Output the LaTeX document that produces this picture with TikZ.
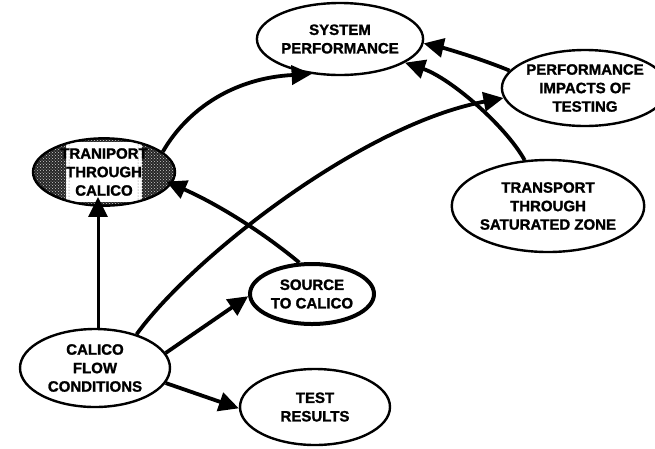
\documentclass[tikz,border=0pt]{standalone}
\usepackage{fontspec}
\setmainfont{Liberation Sans}
\newfontfamily\heavyfont[FakeBold=1.4]{Liberation Sans}
\usetikzlibrary{shapes.geometric,arrows.meta,patterns}
\tikzset{
  bubble/.style={ellipse, draw, line width=2.4pt, inner sep=0pt, align=center,
    font=\heavyfont\bfseries\fontsize{15}{18.5}\selectfont},
  link/.style={line width=3.8pt, -{Triangle[length=20pt,width=19pt]}},
}
\begin{document}
\begin{tikzpicture}[x=1pt,y=-1pt]
\useasboundingbox (0,0) rectangle (655,448);

% ellipses
\node[bubble, minimum width=136pt, minimum height=72pt] (sp) at (340,39) {SYSTEM\\PERFORMANCE};
\node[bubble, minimum width=142pt, minimum height=76pt] (pi) at (585,88) {PERFORMANCE\\IMPACTS OF\\TESTING};
\node[bubble, minimum width=170pt, minimum height=92pt] (sa) at (548,206) {TRANSPORT\\THROUGH\\SATURATED ZONE};
\node[bubble, minimum width=142pt, minimum height=66pt,
  path picture={
    \fill[black!85] (path picture bounding box.south west) rectangle (path picture bounding box.north east);
    \fill[pattern=crosshatch dots, pattern color=white!80!black] (path picture bounding box.south west) rectangle (path picture bounding box.north east);
    \fill[white] ([shift={(-38pt,-30pt)}]path picture bounding box.center) rectangle ([shift={(38pt,30pt)}]path picture bounding box.center);
    \fill[pattern=dots, pattern color=black!60] ([shift={(-38pt,-30pt)}]path picture bounding box.center) rectangle ([shift={(-33pt,30pt)}]path picture bounding box.center);
    \fill[pattern=dots, pattern color=black!60] ([shift={(33pt,-30pt)}]path picture bounding box.center) rectangle ([shift={(38pt,30pt)}]path picture bounding box.center);
  }] (tc) at (104,172) {TRANIPORT\\THROUGH\\CALICO};
\node[bubble, line width=4pt, minimum width=124pt, minimum height=60pt] (so) at (312,294) {SOURCE\\TO CALICO};
\node[bubble, minimum width=150pt, minimum height=78pt] (cf) at (95,368) {CALICO\\FLOW\\CONDITIONS};
\node[bubble, minimum width=150pt, minimum height=76pt] (te) at (315,407) {TEST\\RESULTS};

% connectors
\draw[link, line width=3pt, shorten >=-10pt] ([xshift=3pt]cf.north) -- ([xshift=-6pt]tc.south);
\draw[link] (cf.39) .. controls (190,260) and (360,125) .. (pi.187);
\draw[link, shorten >=-6pt] (so.112) .. controls (259,229) and (213,202) .. (tc.-10);
\draw[link] (cf.12) -- (so.182);
\draw[link] (cf.-12) -- (te.181);
\draw[link] (tc.19) .. controls (188,108) and (235,78) .. (sp.-129);
\draw[link] (pi.167) .. controls (479,58) and (444,48) .. (sp.-3);
\draw[link] (sa.117) .. controls (505,125) and (450,78) .. (sp.-20);
\end{tikzpicture}
\end{document}
